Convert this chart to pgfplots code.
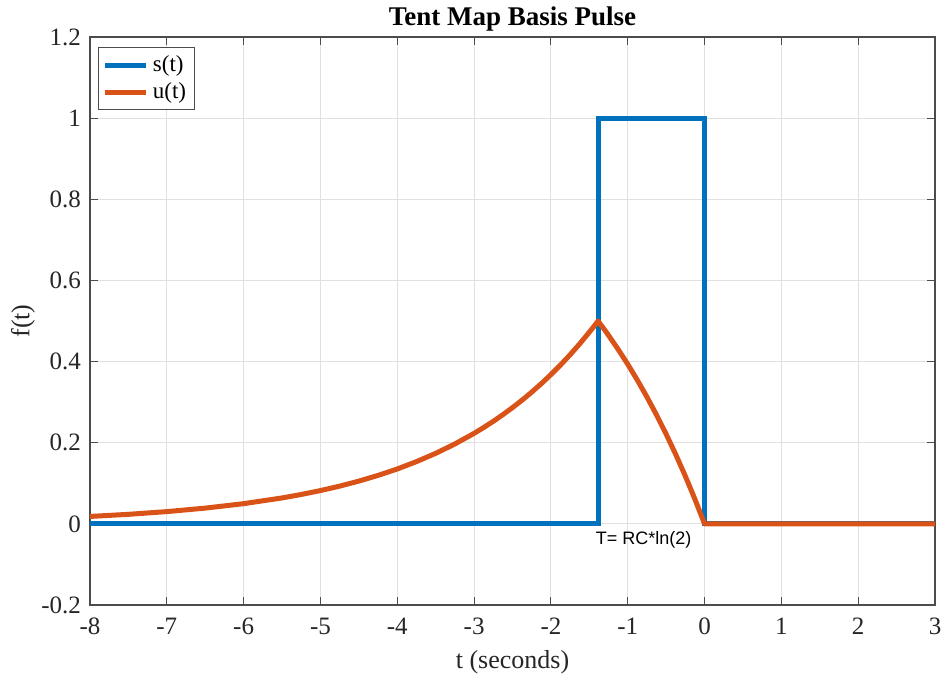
\documentclass[border=0pt]{standalone}
\usepackage{pgfplots}
\pgfplotsset{compat=1.18}
\usepackage{fontspec}
\setmainfont{Liberation Serif}
\setsansfont{Liberation Sans}
\definecolor{mblue}{rgb}{0,0.447,0.741}
\definecolor{morange}{rgb}{0.85,0.325,0.098}
\begin{document}
\begin{tikzpicture}
\path[use as bounding box] (-45pt,-36pt) rectangle (426.5pt,302.5pt);
\begin{axis}[
  at={(0,0)}, anchor=south west,
  scale only axis, width=422.5pt, height=284pt,
  xmin=-8, xmax=3, ymin=-0.2, ymax=1.2,
  xtick={-8,-7,...,3}, ytick={-0.2,0,0.2,0.4,0.6,0.8,1,1.2},
  /pgf/number format/assume math mode=true,
  tick label style={font=\fontsize{12.5}{14}\selectfont, black!85},
  xticklabel style={yshift=-3pt},
  yticklabel style={xshift=-1pt},
  tick align=inside,
  major tick length=4pt,
  tick style={black!70, line width=0.5pt},
  axis line style={black!70, line width=0.6pt},
  grid=major,
  grid style={black!12, line width=0.5pt},
  title={\textbf{Tent Map Basis Pulse}},
  title style={font=\fontsize{13.5}{15}\selectfont, at={(0.5,1)}, anchor=south, yshift=-6.5pt},
  xlabel={t (seconds)},
  ylabel={f(t)},
  label style={font=\fontsize{13}{15}\selectfont, black!85},
  xlabel style={at={(0.5,0)}, anchor=north, yshift=-19pt},
  ylabel style={at={(0,0.5)}, anchor=south, yshift=24pt},
  legend style={at={(0.01,0.982)}, anchor=north west, font=\fontsize{11.5}{13}\selectfont,
    draw=black!70, line width=0.5pt, inner sep=2pt, row sep=0pt},
  legend cell align=left,
  legend image code/.code={\draw[#1, line width=2.5pt] (0cm,0cm) -- (0.72cm,0cm);},
]
\addplot[mblue, line width=2.5pt, line join=miter] coordinates {
(-8,0) (-1.3863,0) (-1.3863,1) (0,1) (0,0) (3,0)
};
\addlegendentry{s(t)}
\addplot[morange, line width=2.5pt, line join=round] coordinates {
(-8,0.0183) (-7.5,0.0235) (-7,0.0302) (-6.5,0.0388) (-6,0.0498) (-5.5,0.0639)
(-5.25,0.0724) (-5,0.0821) (-4.75,0.0930) (-4.5,0.1054) (-4.25,0.1195) (-4,0.1353)
(-3.75,0.1534) (-3.5,0.1738) (-3.25,0.1969) (-3,0.2231) (-2.875,0.2375) (-2.75,0.2528)
(-2.625,0.2692) (-2.5,0.2865) (-2.375,0.3050) (-2.25,0.3247) (-2.125,0.3456) (-2,0.3679)
(-1.875,0.3916) (-1.75,0.4169) (-1.625,0.4438) (-1.5,0.4724) (-1.45,0.4843) (-1.4,0.4966) (-1.3863,0.5)
(-1.3,0.4780) (-1.25,0.4647) (-1.125,0.4302) (-1,0.3935) (-0.875,0.3544) (-0.75,0.3127)
(-0.625,0.2684) (-0.5,0.2212) (-0.375,0.1710) (-0.25,0.1175) (-0.125,0.0606) (0,0) (3,0)
};
\addlegendentry{u(t)}
\node[anchor=west, font=\sffamily\fontsize{9}{11}\selectfont, inner sep=0pt] at (axis cs:-1.42,-0.04) {T= RC*ln(2)};
\end{axis}
\end{tikzpicture}
\end{document}
